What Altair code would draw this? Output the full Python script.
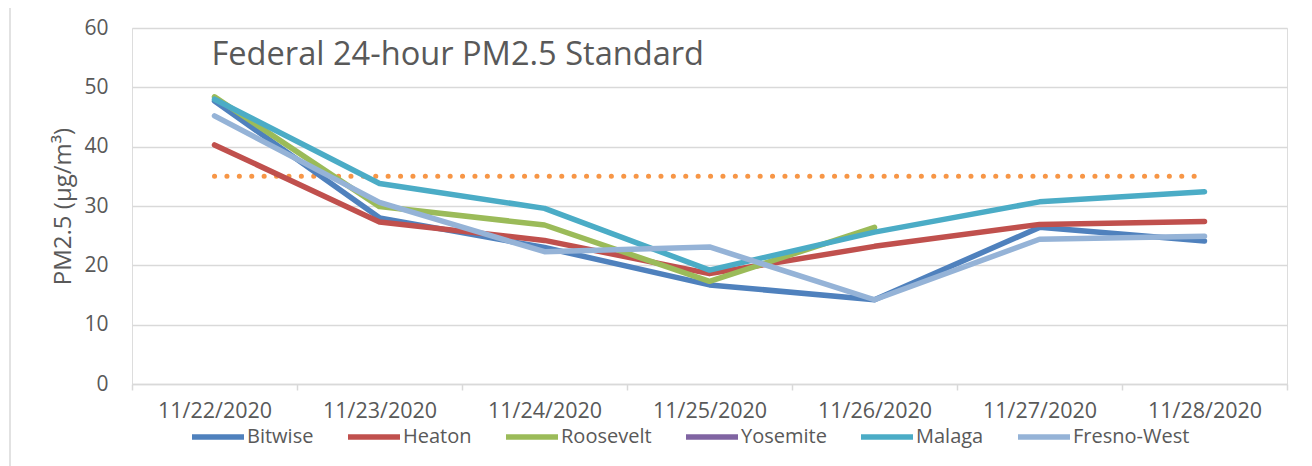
import altair as alt
import pandas as pd

dates = ["11/22/2020", "11/23/2020", "11/24/2020", "11/25/2020",
         "11/26/2020", "11/27/2020", "11/28/2020"]
series_names = ["Bitwise", "Heaton", "Roosevelt", "Yosemite", "Malaga", "Fresno-West"]
series_colors = ["#4F81BD", "#C0504D", "#9BBB59", "#8064A2", "#4BACC6", "#95B3D7"]

bitwise = [47.7, 28.0, 23.0, 16.7, 14.2, 26.4, 24.1]
heaton = [40.3, 27.3, 24.2, 18.6, 23.2, 26.9, 27.4]
roosevelt = [48.4, 29.9, 26.8, 17.3, 26.4, None, None]
yosemite = [None, None, None, None, None, None, None]
malaga = [48.0, 33.8, 29.6, 19.2, 25.6, 30.7, 32.4]
fresno_west = [45.2, 30.6, 22.3, 23.1, 14.2, 24.4, 24.9]

standard = [35, 35, 35, 35, 35, 35, 35]
standard_label = "Federal 24-hour PM2.5 Standard"
standard_label_y = 53.8

values = {
    "Bitwise": bitwise, "Heaton": heaton, "Roosevelt": roosevelt,
    "Yosemite": yosemite, "Malaga": malaga, "Fresno-West": fresno_west,
}

rows = []
for s in series_names:
    for d, v in zip(dates, values[s]):
        if v is not None:
            rows.append({"date": d, "series": s, "value": v})
df = pd.DataFrame(rows)

grey = "#595959"
light = "#D9D9D9"
font = "Open Sans"

x_enc = alt.X(
    "date:O", sort=dates, title=None, bandPosition=0.5,
    scale=alt.Scale(type="band", paddingInner=0, paddingOuter=0, domain=dates),
    axis=alt.Axis(tickBand="extent", ticks=True, tickSize=6, tickColor=light,
                  tickWidth=1.5, domainColor=light, domainWidth=1.5,
                  labelFontSize=21.5, labelColor=grey, labelPadding=10,
                  labelAngle=0, grid=False, labelFont=font),
)
y_enc = alt.Y(
    "value:Q", title="PM2.5 (µg/m³)",
    scale=alt.Scale(domain=[0, 60], nice=False, zero=True),
    axis=alt.Axis(values=[0, 10, 20, 30, 40, 50, 60], grid=True, gridColor=light,
                  gridWidth=1.5, domain=False, ticks=False, labelFontSize=21,
                  labelColor=grey, labelPadding=24, titleFontSize=24,
                  titleColor=grey, titleFontWeight="normal", titleX=-69,
                  titleY=178, titleBaseline="middle", titleAlign="center",
                  labelFont=font, titleFont=font, titleLimit=400),
)
legend = alt.Legend(
    title=None, orient="none", direction="horizontal", legendX=57, legendY=380,
    symbolType="stroke", symbolSize=2704, symbolStrokeWidth=5.5,
    labelFontSize=20, labelColor=grey, labelOffset=0, columnPadding=23,
    labelFont=font, padding=0, labelLimit=300,
)
color_enc = alt.Color(
    "series:N", scale=alt.Scale(domain=series_names, range=series_colors),
    legend=legend,
)

layers = []
border = alt.Chart(pd.DataFrame({"a": [0]})).mark_rule(
    color=light, strokeWidth=1.5
).encode(x=alt.value(-122), y=alt.value(-20), y2=alt.value(440))
layers.append(border)

std_df = pd.DataFrame({"date": dates, "value": standard})
std_line = alt.Chart(std_df).mark_line(
    color="#F79646", strokeWidth=5, strokeDash=[0.1, 12.3], strokeCap="round"
).encode(x=x_enc, y=y_enc)
layers.append(std_line)

for s in series_names:
    sub = df[df["series"] == s]
    if len(sub) == 0:
        continue
    layers.append(
        alt.Chart(sub).mark_line(strokeWidth=5.5, strokeCap="round", strokeJoin="round")
        .encode(x=x_enc, y=y_enc, color=color_enc)
    )

txt_df = pd.DataFrame({"date": [dates[0]], "value": [standard_label_y], "label": [standard_label]})
txt = alt.Chart(txt_df).mark_text(
    align="left", baseline="alphabetic", fontSize=32.6, color=grey, dx=-3, font=font
).encode(x=x_enc, y=y_enc, text="label:N")
layers.append(txt)

chart = alt.layer(*layers).properties(
    width=1155, height=356,
    autosize=alt.AutoSizeParams(type="none"),
    padding={"left": 124, "top": 20, "right": 17, "bottom": 82},
).configure_view(stroke=None).configure(font=font)

chart.save("out.html", embed_options={"renderer": "svg", "actions": False})
